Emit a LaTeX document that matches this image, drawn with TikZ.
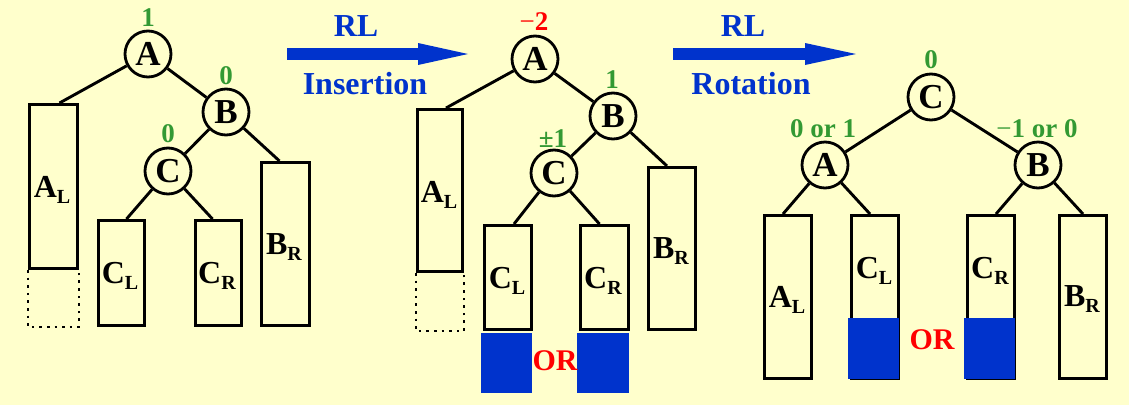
\documentclass[tikz,border=0pt]{standalone}
\usepackage{fontspec}
\setmainfont{Liberation Serif}
\definecolor{bg}{HTML}{FFFFCC}
\definecolor{myblue}{HTML}{0033CC}
\definecolor{mygreen}{HTML}{339933}
\definecolor{myred}{HTML}{FF0000}
\newcommand{\tsub}[2]{#1\raisebox{-6pt}{\fontsize{20}{20}\selectfont #2}}
\begin{document}
\begin{tikzpicture}[x=1pt,y=-1pt,
  every node/.style={font=\bfseries},
  circ/.style={circle,draw,line width=2.8pt,fill=bg,minimum size=46pt,inner sep=0pt,font=\fontsize{35}{35}\selectfont\bfseries},
  tbox/.style={draw,line width=3pt,anchor=north west,inner sep=0pt},
  edge/.style={line width=2.9pt},
  dotbox/.style={line width=2.6pt,dash pattern=on 2.6pt off 5pt},
  boxtxt/.style={anchor=base,inner sep=0pt,font=\fontsize{32}{32}\selectfont\bfseries},
  bal/.style={anchor=base,inner sep=0pt,text=mygreen,font=\fontsize{27}{27}\selectfont\bfseries},
  artxt/.style={anchor=base,inner sep=0pt,text=myblue,font=\fontsize{32}{32}\selectfont\bfseries},
  ortxt/.style={anchor=base,inner sep=0pt,text=myred,font=\fontsize{30}{30}\selectfont\bfseries},
  shaft/.style={draw=myblue,line width=12pt},
  arrhead/.style={fill=myblue},
  bluefill/.style={fill=myblue}
]
\fill[bg] (0,0) rectangle (1129,405);
\useasboundingbox (0,0) rectangle (1129,405);

% ---------------- left tree ----------------
\node[tbox,minimum width=48pt,minimum height=164pt] (lAL) at (28,103) {};
\node[tbox,minimum width=46pt,minimum height=105pt] (lCL) at (97,219) {};
\node[tbox,minimum width=46pt,minimum height=105pt] (lCR) at (194,219) {};
\node[tbox,minimum width=48pt,minimum height=163pt] (lBR) at (260,161) {};
\draw[dotbox] (lAL.south west) -- ++(0,57) -| (lAL.south east);
\node[circ] (lA) at (148,54) {A};
\node[circ] (lB) at (226,112) {B};
\node[circ] (lC) at (168,171) {C};
\draw[edge] (lA) -- ([xshift=6pt]lAL.north);
\draw[edge] (lA) -- (lB);
\draw[edge] (lB) -- (lC);
\draw[edge] (lB) -- ([xshift=-6pt]lBR.north);
\draw[edge] (lC) -- ([xshift=5pt]lCL.north);
\draw[edge] (lC) -- ([xshift=-6pt]lCR.north);
\node[bal] (lbA) at (148,26) {1};
\node[bal] (lbB) at (226,84) {0};
\node[bal] (lbC) at (168,142) {0};
\node[boxtxt] (lALt) at (52,197) {\tsub{A}{L}};
\node[boxtxt] (lCLt) at (120,283) {\tsub{C}{L}};
\node[boxtxt] (lCRt) at (217,283) {\tsub{C}{R}};
\node[boxtxt] (lBRt) at (284,254) {\tsub{B}{R}};

% ---------------- arrow 1 ----------------
\coordinate (a1s) at (287,54);
\coordinate (a1b) at (418,54);
\coordinate (a1e) at (468,54);
\draw[shaft] (a1s) -- ([xshift=1pt]a1b);
\fill[arrhead] ([yshift=11pt]a1b) -- (a1e) -- ([yshift=-11pt]a1b) -- cycle;
\node[artxt] (a1t) at (356,36) {RL};
\node[artxt] (a1l) at (365,94) {Insertion};

% ---------------- middle tree ----------------
\fill[bluefill] (481,333) rectangle (532,393);
\fill[bluefill] (577,333) rectangle (629,393);
\node[tbox,minimum width=45pt,minimum height=162pt] (mAL) at (416,108) {};
\node[tbox,minimum width=47pt,minimum height=104pt] (mCL) at (483,224) {};
\node[tbox,minimum width=48pt,minimum height=104pt] (mCR) at (579,224) {};
\node[tbox,minimum width=47pt,minimum height=162pt] (mBR) at (647,166) {};
\draw[dotbox] (mAL.south west) -- ++(0,58) -| (mAL.south east);
\node[circ] (mA) at (535,59) {A};
\node[circ] (mB) at (613,116) {B};
\node[circ] (mC) at (554,173) {C};
\draw[edge] (mA) -- ([xshift=6pt]mAL.north);
\draw[edge] (mA) -- (mB);
\draw[edge] (mB) -- (mC);
\draw[edge] (mB) -- ([xshift=-5pt]mBR.north);
\draw[edge] (mC) -- ([xshift=6pt]mCL.north);
\draw[edge] (mC) -- ([xshift=-5pt]mCR.north);
\node[bal,text=myred] (mbA) at (534,30) {{\mdseries −}2};
\node[bal] (mbB) at (612,88) {1};
\node[bal] (mbC) at (553,147) {±1};
\node[boxtxt] (mALt) at (439,202) {\tsub{A}{L}};
\node[boxtxt] (mCLt) at (507,288) {\tsub{C}{L}};
\node[boxtxt] (mCRt) at (603,288) {\tsub{C}{R}};
\node[boxtxt] (mBRt) at (671,258) {\tsub{B}{R}};
\node[ortxt] (mOR) at (555,370) {OR};

% ---------------- arrow 2 ----------------
\coordinate (a2s) at (673,54);
\coordinate (a2b) at (805,54);
\coordinate (a2e) at (856,54);
\draw[shaft] (a2s) -- ([xshift=1pt]a2b);
\fill[arrhead] ([yshift=11pt]a2b) -- (a2e) -- ([yshift=-11pt]a2b) -- cycle;
\node[artxt] (a2t) at (743,36) {RL};
\node[artxt] (a2l) at (751,94) {Rotation};

% ---------------- right tree ----------------
\node[tbox,minimum width=47pt,minimum height=163pt] (rAL) at (763,214) {};
\node[tbox,minimum width=47pt,minimum height=163pt] (rCL) at (850,214) {};
\node[tbox,minimum width=47pt,minimum height=163pt] (rCR) at (966,214) {};
\node[tbox,minimum width=47pt,minimum height=163pt] (rBR) at (1058,214) {};
\fill[bluefill] (848,318) rectangle (899,379);
\fill[bluefill] (964,318) rectangle (1015,379);
\node[circ] (rC) at (931,97) {C};
\node[circ] (rA) at (825,165) {A};
\node[circ] (rB) at (1038,165) {B};
\draw[edge] (rC) -- (rA);
\draw[edge] (rC) -- (rB);
\draw[edge] (rA) -- ([xshift=-5pt]rAL.north);
\draw[edge] (rA) -- ([xshift=-5pt]rCL.north);
\draw[edge] (rB) -- ([xshift=5pt]rCR.north);
\draw[edge] (rB) -- (rBR.north);
\node[bal] (rbC) at (931,68) {0};
\node[bal] (rbA) at (823,137) {0 or 1};
\node[bal] (rbB) at (1037,137) {{\mdseries −}1 or 0};
\node[boxtxt] (rALt) at (787,307) {\tsub{A}{L}};
\node[boxtxt] (rCLt) at (874,278) {\tsub{C}{L}};
\node[boxtxt] (rCRt) at (990,278) {\tsub{C}{R}};
\node[boxtxt] (rBRt) at (1082,306) {\tsub{B}{R}};
\node[ortxt] (rOR) at (932,349) {OR};
\end{tikzpicture}
\end{document}
